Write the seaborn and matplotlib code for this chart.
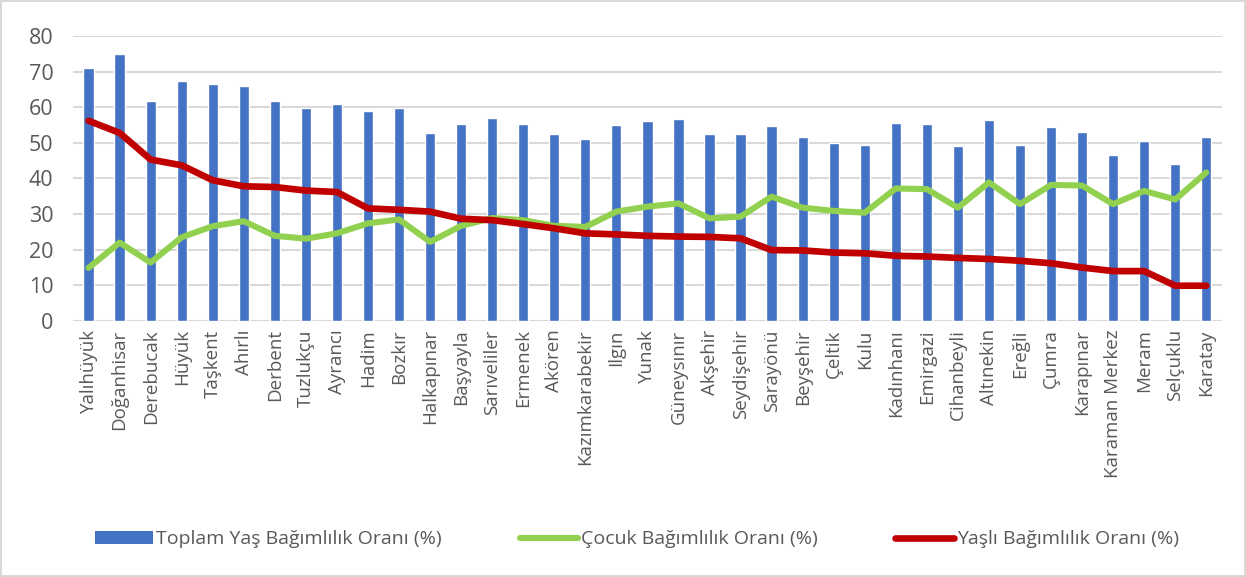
import numpy as np
import matplotlib
matplotlib.use('Agg')
import matplotlib.pyplot as plt
import seaborn as sns
from matplotlib.patches import Patch
from matplotlib.lines import Line2D

# Data
districts = ['Yalıhüyük', 'Doğanhisar', 'Derebucak', 'Hüyük', 'Taşkent', 'Ahırlı', 'Derbent',
             'Tuzlukçu', 'Ayrancı', 'Hadim', 'Bozkır', 'Halkapınar', 'Başyayla', 'Sarıveliler',
             'Ermenek', 'Akören', 'Kazımkarabekir', 'Ilgın', 'Yunak', 'Güneysınır', 'Akşehir',
             'Seydişehir', 'Sarayönü', 'Beyşehir', 'Çeltik', 'Kulu', 'Kadınhanı', 'Emirgazi',
             'Cihanbeyli', 'Altınekin', 'Ereğli', 'Çumra', 'Karapınar', 'Karaman Merkez',
             'Meram', 'Selçuklu', 'Karatay']
toplam = [71.1, 75.0, 61.8, 67.4, 66.6, 65.9, 61.8, 59.8, 60.8, 59.0, 59.7, 52.9, 55.2, 57.0,
          55.4, 52.4, 51.1, 55.0, 56.2, 56.7, 52.4, 52.6, 54.8, 51.6, 49.9, 49.4, 55.6, 55.2,
          49.2, 56.5, 49.5, 54.4, 53.1, 46.5, 50.6, 44.1, 51.7]
cocuk = [14.9, 22.0, 16.4, 23.5, 26.6, 28.0, 23.9, 23.1, 24.6, 27.4, 28.5, 22.2, 26.7, 28.9,
         28.3, 26.7, 26.4, 30.7, 32.1, 33.0, 28.8, 29.3, 34.9, 31.8, 30.9, 30.4, 37.2, 37.0,
         31.8, 38.9, 32.8, 38.2, 38.0, 32.8, 36.5, 34.1, 41.7]
yasli = [56.2, 52.8, 45.3, 43.7, 39.5, 37.8, 37.6, 36.6, 36.2, 31.6, 31.2, 30.7, 28.7, 28.3,
         27.2, 26.0, 24.6, 24.3, 23.9, 23.7, 23.6, 23.2, 19.9, 19.8, 19.2, 19.0, 18.3, 18.1,
         17.7, 17.4, 16.9, 16.2, 15.0, 14.0, 14.0, 9.9, 9.9]
labels = ['Toplam Yaş Bağımlılık Oranı (%)', 'Çocuk Bağımlılık Oranı (%)', 'Yaşlı Bağımlılık Oranı (%)']

blue, green, red = '#4472C4', '#92D050', '#C00000'
grid_col = '#D9D9D9'
txt_col = '#595959'

sns.set_style('white')
plt.rcParams['font.family'] = ['Open Sans', 'DejaVu Sans']

fig = plt.figure(figsize=(12.46, 5.77), dpi=100)
fig.patch.set_edgecolor(grid_col)
fig.patch.set_linewidth(1.5)
ax = fig.add_axes([0.0586, 0.4437, 0.922, 0.494])

pos = np.arange(len(districts))
sns.barplot(x=districts, y=toplam, color=blue, width=0.33, saturation=1, ax=ax, zorder=2)
sns.lineplot(x=pos, y=cocuk, color=green, linewidth=4.4, ax=ax, zorder=3,
             solid_capstyle='round', solid_joinstyle='round')
sns.lineplot(x=pos, y=yasli, color=red, linewidth=4.8, ax=ax, zorder=4,
             solid_capstyle='round', solid_joinstyle='round')

ax.set_ylim(0, 80)
ax.set_xlim(-0.5, len(districts) - 0.5)
ax.set_yticks(range(0, 81, 10))
ax.yaxis.grid(True, color=grid_col, linewidth=1.5, zorder=0)
ax.set_axisbelow(True)
for s in ax.spines.values():
    s.set_visible(False)
ax.tick_params(axis='both', length=0, colors=txt_col)
ax.tick_params(axis='y', labelsize=15.5, pad=14)
ax.tick_params(axis='x', pad=6)
ax.set_xticks(pos)
ax.set_xticklabels(districts, rotation=90, fontsize=13.5)
ax.set_xlabel('')
ax.set_ylabel('')

handles = [Patch(facecolor=blue, edgecolor='none'),
           Line2D([], [], color=green, linewidth=4.4, solid_capstyle='round'),
           Line2D([], [], color=red, linewidth=4.8, solid_capstyle='round')]
fig.legend(handles, labels, loc='center', bbox_to_anchor=(0.511, 0.065), ncol=3, frameon=False,
           fontsize=14, handlelength=3.0, handletextpad=0.15, columnspacing=4.0,
           labelcolor=txt_col)

fig.savefig('out.png', dpi=100)
